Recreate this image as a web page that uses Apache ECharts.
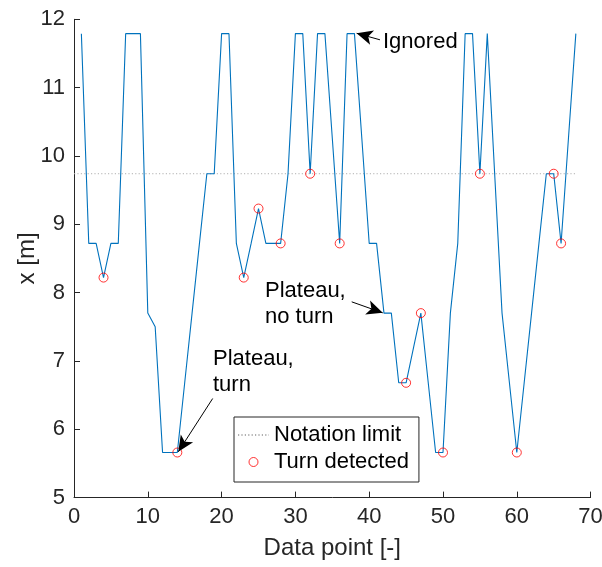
<!DOCTYPE html>
<html>
<head>
<meta charset="utf-8">
<script src="https://cdn.jsdelivr.net/npm/echarts@6/dist/echarts.min.js"></script>
<style>html,body{margin:0;padding:0;background:#fff}#c{width:602px;height:567px}</style>
</head>
<body>
<div id="c"></div>
<script>
// Data point index and measured position
const dataPoints = [1,2,3,4,5,6,7,8,9,10,11,12,13,14,15,16,17,18,19,20,21,22,23,24,25,26,27,28,29,30,31,32,33,34,35,36,37,38,39,40,41,42,43,44,45,46,47,48,49,50,51,52,53,54,55,56,57,58,59,60,61,62,63,64,65,66,67,68];
const xValues = [11.79,8.72,8.72,8.22,8.72,8.72,11.79,11.79,11.79,7.70,7.50,5.66,5.66,5.66,6.68,7.70,8.72,9.74,9.74,11.79,11.79,8.72,8.22,8.72,9.23,8.72,8.72,8.72,9.74,11.79,11.79,9.74,11.79,11.79,10.26,8.72,11.79,11.79,10.26,8.72,8.72,7.70,7.70,6.68,6.68,7.19,7.70,6.68,5.66,5.66,7.70,8.72,11.79,11.79,9.74,11.79,9.74,7.70,6.68,5.66,6.68,7.70,8.72,9.74,9.74,8.72,10.26,11.79];
// Turn detected points (data point index)
const turnIdx = [4,14,23,25,28,32,36,45,47,50,55,60,65,66];
// Notation limit
const notationLimit = 9.74;
const limitRange = [0, 68];
const xTicks = [0,10,20,30,40,50,60,70];
const yTicks = [5,6,7,8,9,10,11,12];

const font = 'Liberation Sans, Arial, Helvetica, sans-serif';
const txt = '#262626';

const lineData = dataPoints.map((d,i)=>[d,xValues[i]]);
const turnData = turnIdx.map(d=>[d, xValues[dataPoints.indexOf(d)]]);
const limitData = limitRange.map(d=>[d, notationLimit]);

const chart = echarts.init(document.getElementById('c'), null, {renderer:'canvas'});
const arrowLine = {color:'#000', width:1, type:'solid'};
chart.setOption({
  animation:false,
  backgroundColor:'#fff',
  grid:{left:74, right:11.4, top:19.3, bottom:69.4, containLabel:false, outerBoundsMode:'none'},
  xAxis:{type:'value', min:xTicks[0], max:xTicks[xTicks.length-1], interval:10,
    name:'Data point [-]', nameLocation:'middle', nameGap:39, nameMoveOverlap:false,
    nameTextStyle:{fontFamily:font, fontSize:24, color:txt},
    axisLine:{lineStyle:{color:txt, width:1}},
    axisTick:{inside:true, length:6, lineStyle:{color:txt}},
    axisLabel:{fontFamily:font, fontSize:22, color:txt, margin:8},
    splitLine:{show:false}},
  yAxis:{type:'value', min:yTicks[0], max:yTicks[yTicks.length-1], interval:1,
    name:'x [m]', nameLocation:'middle', nameGap:35, nameRotate:90, nameMoveOverlap:false,
    nameTextStyle:{fontFamily:font, fontSize:24, color:txt},
    axisLine:{show:true, lineStyle:{color:txt, width:1}},
    axisTick:{show:true, inside:true, length:6, lineStyle:{color:txt}},
    axisLabel:{fontFamily:font, fontSize:22, color:txt, margin:9},
    splitLine:{show:false}},
  legend:{show:true, orient:'vertical', left:234, top:417, width:179,
    backgroundColor:'#fff', borderColor:txt, borderWidth:1, borderRadius:0,
    padding:[7,10,9,3], itemGap:5, itemWidth:31, itemHeight:9,
    textStyle:{fontFamily:font, fontSize:22, color:'#000'},
    data:[{name:'Notation limit'},{name:'Turn detected', icon:'circle', itemStyle:{color:'rgba(255,255,255,0)', borderColor:'#ff0000', borderWidth:1}}]},
  series:[
    {name:'Data', type:'line', data:lineData, showSymbol:false, symbol:'none',
      lineStyle:{color:'#0072BD', width:1.1}, z:3,
      markLine:{silent:true, symbol:['none','arrow'], symbolSize:[11,16], label:{show:false},
        lineStyle:arrowLine, itemStyle:{color:'#000'},
        data:[
          [{coord:[41.46,11.70]},{coord:[38.3,11.795]}],
          [{coord:[37.63,7.865]},{coord:[41.83,7.704]}],
          [{coord:[18.79,6.45]},{coord:[14.13,5.67]}]
        ]}},
    {name:'Notation limit', type:'line', data:limitData, showSymbol:false, symbol:'none',
      lineStyle:{color:'#b0b0b0', width:1, type:[1.2,2.2]}, itemStyle:{color:'rgba(0,0,0,0)'}, z:2},
    {name:'Turn detected', type:'scatter', data:turnData, symbol:'circle', symbolSize:9,
      itemStyle:{color:'rgba(255,255,255,0)', borderColor:'#ff0000', borderWidth:1}, z:4}
  ],
  graphic:[
    {type:'text', left:383, top:31, style:{text:'Ignored', fontFamily:font, fontSize:22, fill:'#000'}},
    {type:'text', left:265, top:278, style:{text:'Plateau,\nno turn', fontFamily:font, fontSize:22, lineHeight:26, fill:'#000'}},
    {type:'text', left:213, top:346, style:{text:'Plateau,\nturn', fontFamily:font, fontSize:22, lineHeight:26, fill:'#000'}}
  ]
});
</script>
</body>
</html>
